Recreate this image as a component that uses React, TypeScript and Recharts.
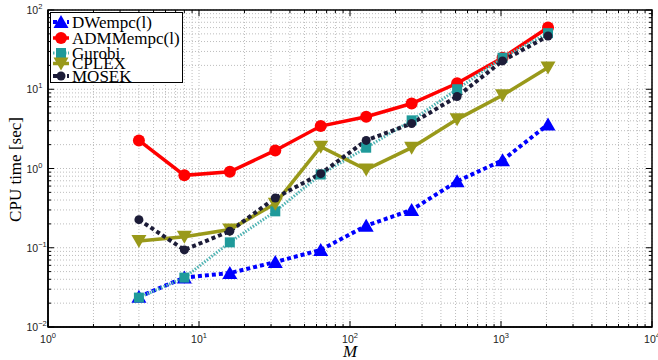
import React from "react";
import {
  LineChart,
  Line,
  XAxis,
  YAxis,
  CartesianGrid,
  ReferenceArea,
} from "recharts";

// problem size M (log axis)
const mValues = [4, 8, 16, 32, 64, 128, 256, 512, 1024, 2048];

// CPU time [sec] per solver
const dwempc = [0.024, 0.042, 0.048, 0.066, 0.094, 0.19, 0.3, 0.69, 1.27, 3.6];
const admmempc = [2.26, 0.82, 0.91, 1.69, 3.43, 4.5, 6.6, 11.9, 25, 60];
const gurobi = [0.0235, 0.042, 0.117, 0.288, 0.84, 1.83, 4.05, 10, 25, 51];
const cplex = [0.122, 0.138, 0.17, 0.36, 1.88, 0.97, 1.83, 4.17, 8.4, 18.8];
const mosek = [0.226, 0.094, 0.162, 0.425, 0.86, 2.26, 3.7, 8.1, 22.8, 47];

const xDecades = [1, 10, 100, 1000, 10000];
const yDecades = [0.01, 0.1, 1, 10, 100];
const minorSteps = [2, 3, 4, 5, 6, 7, 8, 9];

const withMinor = (decades: number[]) => [
  ...decades.slice(0, -1).flatMap((d) => [d, ...minorSteps.map((k) => d * k)]),
  decades[decades.length - 1],
];
const xTicks = withMinor(xDecades);
const yTicks = withMinor(yDecades);

const data = mValues.map((m, i) => ({
  m,
  dw: dwempc[i],
  admm: admmempc[i],
  gurobi: gurobi[i],
  cplex: cplex[i],
  mosek: mosek[i],
}));

const W = 658;
const H = 360;
const PLOT_LEFT = 48;
const PLOT_TOP = 10;
const PLOT_RIGHT = 652;
const PLOT_BOTTOM = 327;

const SERIF = "'Liberation Serif', 'DejaVu Serif', serif";
const SANS = "'Liberation Sans', Arial, sans-serif";

type Shape = "up" | "down" | "circle" | "bigcircle" | "square";

const series = [
  { key: "dw", name: "DWempc(l)", color: "#0000ff", lineColor: "#0000ff", width: 4, dash: "4 3", shape: "up" as Shape },
  { key: "admm", name: "ADMMempc(l)", color: "#ff0000", lineColor: "#ff0000", width: 3.5, dash: undefined, shape: "bigcircle" as Shape },
  { key: "gurobi", name: "Gurobi", color: "#1f9a9a", lineColor: "#4fb3b3", width: 3, dash: "1.5 1.5", shape: "square" as Shape },
  { key: "cplex", name: "CPLEX", color: "#99991a", lineColor: "#99991a", width: 3.5, dash: undefined, shape: "down" as Shape },
  { key: "mosek", name: "MOSEK", color: "#1c1c38", lineColor: "#1c1c38", width: 4, dash: "4 3", shape: "circle" as Shape },
];

function Marker({ cx, cy, shape, color }: { cx: number; cy: number; shape: Shape; color: string }) {
  if (cx == null || cy == null) return null;
  switch (shape) {
    case "up":
      return <polygon points={`${cx},${cy - 7} ${cx - 7.5},${cy + 6} ${cx + 7.5},${cy + 6}`} fill={color} />;
    case "down":
      return <polygon points={`${cx},${cy + 7} ${cx - 7.5},${cy - 6} ${cx + 7.5},${cy - 6}`} fill={color} />;
    case "square":
      return <rect x={cx - 5} y={cy - 5} width={10} height={10} fill={color} />;
    case "bigcircle":
      return <circle cx={cx} cy={cy} r={6} fill={color} />;
    default:
      return <circle cx={cx} cy={cy} r={4.5} fill={color} />;
  }
}

const isDecade = (v: number) => {
  const e = Math.round(Math.log10(v));
  return Math.abs(v - Math.pow(10, e)) < 1e-9 * v;
};
const expText = (v: number) => {
  const e = Math.round(Math.log10(v));
  return e < 0 ? `\u2212${-e}` : `${e}`;
};

function XTick(props: any) {
  const { x, y, payload } = props;
  const major = isDecade(payload.value);
  const len = major ? 6 : 3;
  return (
    <g>
      <line x1={x} x2={x} y1={y} y2={y - len} stroke="#000" />
      <line x1={x} x2={x} y1={PLOT_TOP} y2={PLOT_TOP + len} stroke="#000" />
      {major && (
        <text x={x} y={y + 16} textAnchor="middle" fontFamily={SANS} fontSize={10.5} fill="#222">
          10
          <tspan dy={-5} fontSize={7.5}>
            {expText(payload.value)}
          </tspan>
        </text>
      )}
    </g>
  );
}

function YTick(props: any) {
  const { x, y, payload } = props;
  const major = isDecade(payload.value);
  const len = major ? 6 : 3;
  return (
    <g>
      <line x1={x} x2={x + len} y1={y} y2={y} stroke="#000" />
      <line x1={PLOT_RIGHT} x2={PLOT_RIGHT - len} y1={y} y2={y} stroke="#000" />
      {major && (
        <text x={x - 21.5} y={y + 4} textAnchor="start" fontFamily={SANS} fontSize={10.5} fill="#222">
          10
          <tspan dy={-5} fontSize={7.5}>
            {expText(payload.value)}
          </tspan>
        </text>
      )}
    </g>
  );
}

// legend rows sit unevenly in the original (CPLEX and MOSEK overlap)
const legendRows = [9, 25, 40, 50.5, 63];

function LegendBox() {
  return (
    <svg
      width={133}
      height={71}
      style={{ position: "absolute", left: 50, top: 12, background: "#fff", border: "1.5px solid #000", boxSizing: "border-box" }}
    >
      {series.map((s, i) => {
        const cy = legendRows[i];
        return (
          <g key={s.key}>
            <line x1={2} x2={18} y1={cy} y2={cy} stroke={s.lineColor} strokeWidth={s.width} strokeDasharray={s.dash} />
            <Marker cx={10} cy={cy} shape={s.shape} color={s.color} />
            <text x={21} y={cy + 5.5} fontFamily={SERIF} fontSize={17} fill="#000">
              {s.name}
            </text>
          </g>
        );
      })}
    </svg>
  );
}

export default function App() {
  return (
    <div style={{ position: "absolute", left: 0, top: 0, width: W, height: H, background: "#fff" }}>
      <LineChart
        width={W}
        height={H}
        data={data}
        margin={{ top: PLOT_TOP, right: W - PLOT_RIGHT, left: 0, bottom: 0 }}
      >
        <CartesianGrid stroke="#bdbdbd" strokeDasharray="1 2" />
        <XAxis
          dataKey="m"
          type="number"
          scale="log"
          domain={[1, 10000]}
          ticks={xTicks}
          interval={0}
          allowDataOverflow
          height={H - PLOT_BOTTOM}
          tickSize={0}
          tickMargin={0}
          tick={<XTick />}
          axisLine={{ stroke: "#000", strokeWidth: 1.5 }}
          label={(p: any) => (
            <text
              x={p.viewBox.x + p.viewBox.width / 2}
              y={p.viewBox.y + 30}
              textAnchor="middle"
              fontFamily={SERIF}
              fontStyle="italic"
              fontSize={17}
              fill="#000"
            >
              M
            </text>
          )}
        />
        <YAxis
          type="number"
          scale="log"
          domain={[0.01, 100]}
          ticks={yTicks}
          interval={0}
          allowDataOverflow
          width={PLOT_LEFT}
          tickSize={0}
          tickMargin={0}
          tick={<YTick />}
          axisLine={{ stroke: "#000", strokeWidth: 1.5 }}
          label={(p: any) => {
            const cy = p.viewBox.y + p.viewBox.height / 2 + 1;
            return (
              <text
                x={15}
                y={cy}
                transform={`rotate(-90 15 ${cy})`}
                textAnchor="middle"
                dominantBaseline="central"
                fontFamily={SERIF}
                fontSize={17}
                fill="#000"
              >
                CPU time [sec]
              </text>
            );
          }}
        />
        <ReferenceArea x1={1} x2={10000} y1={0.01} y2={100} fill="none" stroke="#000" strokeWidth={1.5} />
        {series.map((s) => (
          <Line
            key={s.key}
            dataKey={s.key}
            name={s.name}
            type="linear"
            stroke={s.lineColor}
            strokeWidth={s.width}
            strokeDasharray={s.dash}
            isAnimationActive={false}
            activeDot={false}
            dot={(p: any) => (
              <Marker key={`${s.key}-${p.index}`} cx={p.cx} cy={p.cy} shape={s.shape} color={s.color} />
            )}
          />
        ))}
      </LineChart>
      <LegendBox />
    </div>
  );
}
